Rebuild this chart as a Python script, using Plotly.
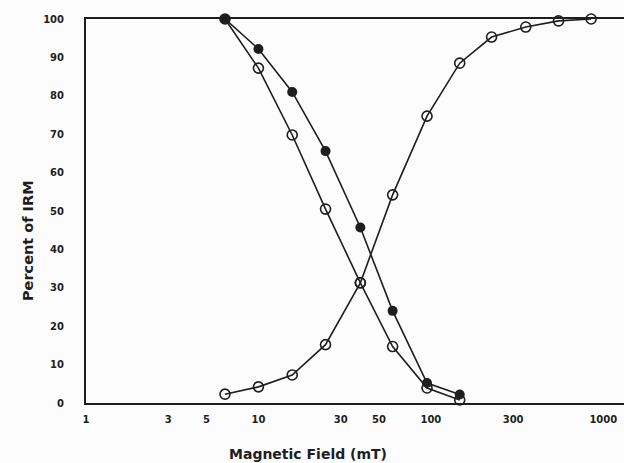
import plotly.graph_objects as go

# Data
field_mT = [6.4, 10, 15.7, 24.5, 39, 60, 95, 147, 225, 355, 550, 850]
irm_acquisition = [2.3, 4.2, 7.3, 15.2, 31.3, 54.2, 74.7, 88.5, 95.3, 97.9, 99.5, 100]
demag_open = [100, 87.2, 69.8, 50.5, 31.3, 14.7, 3.9, 0.8]
demag_filled = [100, 92.2, 81.0, 65.6, 45.7, 24.0, 5.2, 2.2]

x_tickvals = [1, 3, 5, 10, 30, 50, 100, 300, 1000]
x_ticktext = ["1", "3", "5", "10", "30", "50", "100", "300", "1000"]
y_tickvals = [0, 10, 20, 30, 40, 50, 60, 70, 80, 90, 100]

ink = "#1e1e1e"
font_family = "DejaVu Sans, Liberation Sans, Arial, sans-serif"

fig = go.Figure()

fig.add_trace(go.Scatter(
    x=field_mT, y=irm_acquisition, mode="lines+markers",
    line=dict(color=ink, width=1.6),
    marker=dict(symbol="circle-open", size=10, color=ink, line=dict(width=1.6)),
    cliponaxis=False, showlegend=False))

fig.add_trace(go.Scatter(
    x=field_mT[:len(demag_open)], y=demag_open, mode="lines+markers",
    line=dict(color=ink, width=1.6),
    marker=dict(symbol="circle-open", size=10, color=ink, line=dict(width=1.6)),
    cliponaxis=False, showlegend=False))

fig.add_trace(go.Scatter(
    x=field_mT[:len(demag_filled)], y=demag_filled, mode="lines+markers",
    line=dict(color=ink, width=1.6),
    marker=dict(symbol="circle", size=10, color=ink),
    cliponaxis=False, showlegend=False))

fig.update_layout(
    width=624, height=463,
    margin=dict(l=86, r=0, t=19, b=60, autoexpand=False),
    paper_bgcolor="#fcfcfc", plot_bgcolor="#fcfcfc",
    font=dict(family=font_family, color=ink, size=10, weight="bold"),
    xaxis=dict(
        type="log", range=[0, 3.12],
        tickvals=x_tickvals, ticktext=x_ticktext,
        showgrid=False, zeroline=False, automargin=False,
        showline=True, linecolor=ink, linewidth=2, mirror=True,
        ticks="", ticklabelstandoff=6,
        tickfont=dict(size=10, family=font_family, weight="bold"),
    ),
    yaxis=dict(
        range=[0, 100], tickvals=y_tickvals,
        showgrid=False, zeroline=False, automargin=False,
        showline=True, linecolor=ink, linewidth=2,
        ticks="", ticklabelstandoff=18,
        tickfont=dict(size=10, family=font_family, weight="bold"),
    ),
    annotations=[
        dict(text="Magnetic Field (mT)", xref="paper", yref="paper",
             x=0.413, y=-0.133, xanchor="center", yanchor="middle",
             showarrow=False, font=dict(size=14, family=font_family, weight="bold", color=ink)),
        dict(text="Percent of IRM", xref="paper", yref="paper",
             x=-0.108, y=0.424, xanchor="center", yanchor="middle", textangle=-90,
             showarrow=False, font=dict(size=14.5, family=font_family, weight="bold", color=ink)),
    ],
)

fig.write_html(
    "out.html",
    config={"displayModeBar": False},
    post_script="document.body.style.margin='0';document.body.style.overflow='hidden';",
)
